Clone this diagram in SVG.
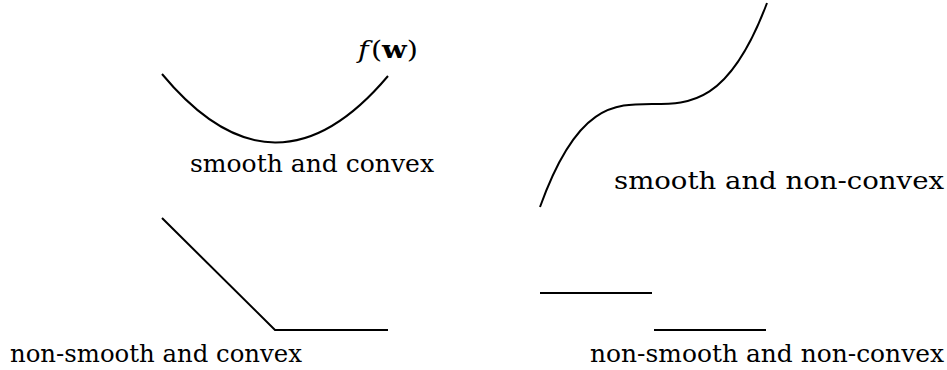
<svg xmlns="http://www.w3.org/2000/svg" width="947" height="370" viewBox="0 0 947 370">
<style>
.c{fill:none;stroke:#000;stroke-width:2;stroke-linecap:butt;stroke-linejoin:miter}
text{font-family:'DejaVu Serif','Liberation Serif',serif;font-size:25px;fill:#000}
</style>
<rect width="947" height="370" fill="#fff"/>
<g id="smooth-convex">
<path class="c" d="M162,74 Q275,210 388,76"/>
<text x="358" y="58" font-size="27" textLength="60" lengthAdjust="spacingAndGlyphs"><tspan font-style="italic">f</tspan><tspan dx="2">(</tspan><tspan font-weight="bold">w</tspan>)</text>
<text x="190" y="172" textLength="244" lengthAdjust="spacingAndGlyphs">smooth and convex</text>
</g>
<g id="smooth-nonconvex">
<path class="c" d="M540,207 C577,104 614,104 652,104 C690,104 729,104 767,3"/>
<text x="614" y="189" textLength="330" lengthAdjust="spacingAndGlyphs">smooth and non-convex</text>
</g>
<g id="nonsmooth-convex">
<polyline class="c" points="162,218 275,330 388,330"/>
<text x="10" y="362" textLength="292" lengthAdjust="spacingAndGlyphs">non-smooth and convex</text>
</g>
<g id="nonsmooth-nonconvex">
<line class="c" x1="540" y1="293" x2="652" y2="293"/>
<line class="c" x1="654" y1="330" x2="766" y2="330"/>
<text x="590" y="362" textLength="354" lengthAdjust="spacingAndGlyphs">non-smooth and non-convex</text>
</g>
</svg>
